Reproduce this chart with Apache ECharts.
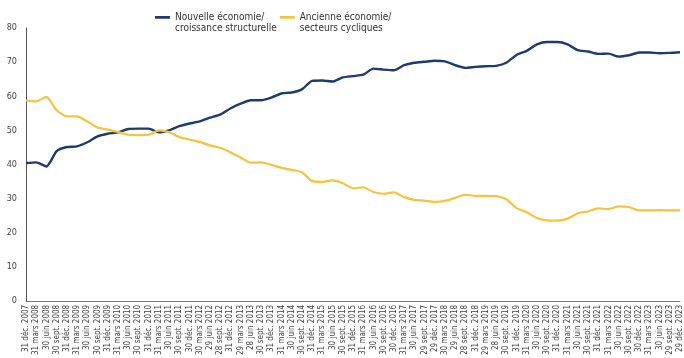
<!DOCTYPE html>
<html><head><meta charset="utf-8">
<script src="https://cdn.jsdelivr.net/npm/echarts@6/dist/echarts.min.js"></script>
<style>html,body{margin:0;padding:0;background:#fff}#c{width:684px;height:358px}</style>
</head><body><div id="c"></div>
<script>
const categories = [
"31 déc. 2007","31 mars 2008","30 juin 2008","30 sept. 2008","31 déc. 2008","31 mars 2009","30 juin 2009","30 sept. 2009","31 déc. 2009",
"31 mars 2010","30 juin 2010","30 sept. 2010","31 déc. 2010","31 mars 2011","30 juin 2011","30 sept. 2011","30 déc. 2011",
"30 mars 2012","29 juin 2012","28 sept. 2012","31 déc. 2012","29 mars 2013","28 juin 2013","30 sept. 2013","31 déc. 2013",
"31 mars 2014","30 juin 2014","30 sept. 2014","31 déc. 2014","31 mars 2015","30 juin 2015","30 sept. 2015","31 déc. 2015",
"31 mars 2016","30 juin 2016","30 sept. 2016","30 déc. 2016","31 mars 2017","30 juin 2017","29 sept. 2017","29 déc. 2017",
"30 mars 2018","29 juin 2018","28 sept. 2018","31 déc. 2018","29 mars 2019","28 juin 2019","30 sept. 2019","31 déc. 2019",
"31 mars 2020","30 juin 2020","30 sept. 2020","31 déc. 2020","31 mars 2021","30 juin 2021","30 sept. 2021","31 déc. 2021",
"31 mars 2022","30 juin 2022","30 sept. 2022","30 déc. 2022","31 mars 2023","30 juin 2023","29 sept. 2023","29 déc. 2023"
];
const nouvelleEconomie = [
40.4,40.6,39.4,43.9,45.1,45.3,46.5,48.2,49.0,49.4,50.4,50.5,50.5,49.4,50.0,51.2,52.0,52.6,53.7,54.6,
56.4,57.8,58.8,58.8,59.6,60.8,61.1,62.0,64.5,64.6,64.3,65.5,65.9,66.3,68.1,67.8,67.6,69.1,69.8,70.1,
70.4,70.2,69.1,68.3,68.6,68.8,68.9,69.8,72.1,73.3,75.2,75.9,75.9,75.2,73.5,73.1,72.4,72.5,71.6,72.0,
72.8,72.8,72.6,72.7,72.9
];
const ancienneEconomie = [
58.8,58.5,59.8,55.9,54.1,54.1,52.6,50.8,50.2,49.5,48.7,48.6,48.7,50.0,49.5,48.0,47.3,46.6,45.6,44.9,
43.6,42.0,40.5,40.6,39.9,39.0,38.4,37.7,35.1,34.9,35.3,34.5,33.0,33.3,31.9,31.4,31.8,30.4,29.6,29.4,
29.0,29.3,30.2,31.1,30.8,30.8,30.7,29.8,27.2,26.0,24.3,23.6,23.5,24.1,25.7,26.2,27.1,26.9,27.7,27.5,
26.5,26.5,26.6,26.5,26.5
];
const seriesNames = ["Nouvelle économie/\ncroissance structurelle","Ancienne économie/\nsecteurs cycliques"];

const FONT = "'Liberation Sans Narrow','DejaVu Sans Condensed','Open Sans',sans-serif";
// legend marker: a short bar near the top of a tall box, so it sits beside the first text line
const LEGEND_ICON = 'path://M0,0h0.01v0.01h-0.01z M0,4.1h15v2.6h-15z M0,21.99h0.01v0.01h-0.01z';
const chart = echarts.init(document.getElementById('c'));
chart.setOption({
  animation:false,
  backgroundColor:'#fff',
  grid:{left:26,right:3,top:28,bottom:57,containLabel:false},
  legend:{
    left:155, top:12, padding:0, itemGap:3, itemWidth:15, itemHeight:22, icon:LEGEND_ICON,
    textStyle:{fontFamily:FONT,fontSize:10,color:'#333',lineHeight:10.5},
    data:seriesNames
  },
  xAxis:{
    type:'category', data:categories, boundaryGap:false,
    axisLine:{show:true,lineStyle:{color:'#777',width:1}},
    axisTick:{show:false},
    axisLabel:{interval:0,rotate:90,fontFamily:FONT,fontSize:8,color:'#444',margin:4}
  },
  yAxis:{
    type:'value', min:0, max:80, interval:10,
    axisLine:{show:true,lineStyle:{color:'#555',width:1}},
    axisTick:{show:false},
    splitLine:{show:false},
    axisLabel:{fontFamily:FONT,fontSize:9,color:'#444',margin:9}
  },
  series:[
    {name:seriesNames[0],type:'line',data:nouvelleEconomie,showSymbol:false,smooth:0.2,
     lineStyle:{color:'#1d3b6e',width:2.4},itemStyle:{color:'#1d3b6e'}},
    {name:seriesNames[1],type:'line',data:ancienneEconomie,showSymbol:false,smooth:0.2,
     lineStyle:{color:'#f4c43a',width:2.2},itemStyle:{color:'#f4c43a'}}
  ]
});
</script></body></html>
